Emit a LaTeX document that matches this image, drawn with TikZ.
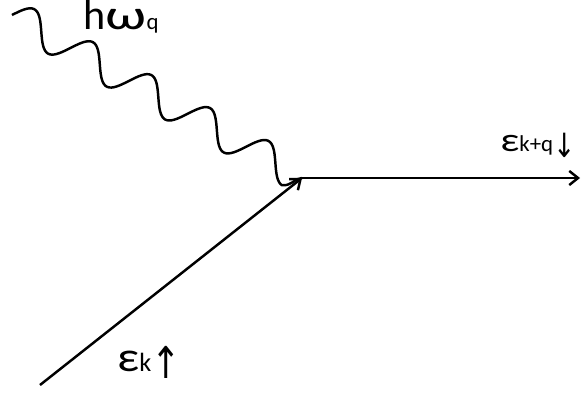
\documentclass[tikz,border=0pt]{standalone}
\usepackage{fontspec}
\setmainfont{Carlito}
\newfontfamily\arrowfont{DejaVu Sans}
\usetikzlibrary{arrows.meta}

\tikzset{
  line/.style={line width=1.4pt,-{Straight Barb[length=5pt,width=8pt,line width=1.4pt]}},
  photon/.style={line width=1.4pt,line join=round},
  lbl/.style={inner sep=0pt,anchor=base west}
}
\newcommand{\fsz}[1]{\fontsize{#1}{#1}\selectfont}
\newcommand{\wide}[2]{\scalebox{#1}[1]{#2}}
\newcommand{\spinarrow}[3]{\raisebox{#2}{\arrowfont\fsz{#1}\wide{0.8}{#3}}}

\begin{document}
\begin{tikzpicture}[x=0.02cm,y=-0.02cm]
\useasboundingbox (0,0) rectangle (581,396);
% vertex and free ends
\coordinate (v) at (302,178);
\coordinate (in) at (40,385);
\coordinate (out) at (580,178);
\coordinate (w) at (12,15);
% electron lines
\draw[line] (in) -- (v);
\draw[line] (v) -- (out);
% phonon, a sine along (w)--(v)
\draw[photon] (w) -- plot[domain=0:319,samples=160,variable=\u]
  ({12+0.871*\u+7.84*sin(5.357*\u)},{15+0.49*\u-13.94*sin(5.357*\u)})
  .. controls (292,186) and (295,178) .. (v);
% labels
\node[lbl] (ph) at (83,29) {\fsz{24}h\wide{1.4}{ω}\fsz{13}q};
\node[lbl] (eout) at (500,151) {\fsz{19}\wide{1.25}{ε}\fsz{13}k+q\spinarrow{19}{-0.12cm}{↓}};
\node[lbl] (ein) at (117,371) {\fsz{24}\wide{1.15}{ε}\fsz{15}k\spinarrow{25}{-0.14cm}{↑}};
\end{tikzpicture}
\end{document}
